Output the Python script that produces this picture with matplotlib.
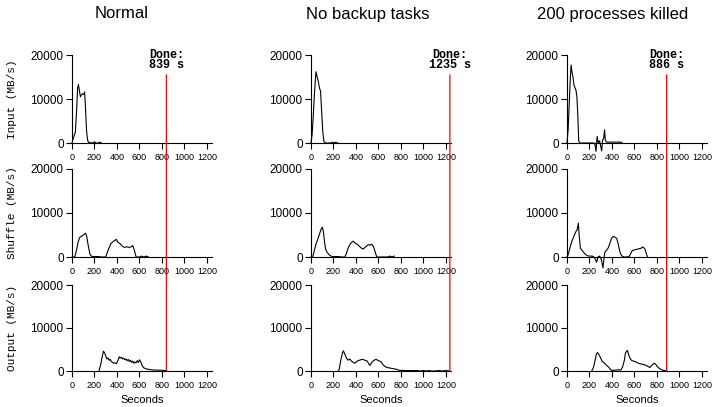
import numpy as np
import matplotlib.pyplot as plt
from matplotlib.patches import ConnectionPatch

# column titles and finish times
titles = ['Normal', 'No backup tasks', '200 processes killed']
done_s = [839, 1235, 886]
row_labels = ['Input (MB/s)', 'Shuffle (MB/s)', 'Output (MB/s)']

# Normal
input_normal_t = [0, 5, 20, 30, 40, 50, 57, 65, 75, 85, 95, 105, 112, 120, 130, 140, 150, 190, 200, 210, 240, 250, 260]
input_normal_v = [0, 500, 1800, 2500, 7000, 12500, 13300, 12000, 10500, 11000, 11200, 11000, 11600, 8000, 2500, 500, 100, 0, 300, 0, 0, 200, 0]
shuffle_normal_t = [0, 25, 40, 55, 70, 90, 110, 120, 130, 145, 160, 175, 190, 240, 260, 300, 320, 345, 370, 395, 410, 430, 445,
                    465, 490, 510, 525, 540, 555, 570, 600, 620, 640, 660, 680]
shuffle_normal_v = [0, 0, 1500, 3500, 4500, 4800, 5200, 5400, 4800, 2500, 600, 150, 100, 100, 0, 0, 1500, 3000, 3600, 4000, 3300,
                    3000, 2500, 2200, 2300, 2200, 2300, 2600, 1500, 0, 0, 200, 0, 200, 0]
output_normal_t = [240, 255, 270, 280, 290, 300, 310, 320, 330, 340, 350, 360, 370, 380, 395, 410, 420, 430, 440, 450, 460, 470,
                   480, 490, 500, 510, 520, 530, 540, 550, 560, 570, 580, 590, 600, 610, 620, 630, 640, 660, 680, 700, 720, 750,
                   780, 810, 830, 840]
output_normal_v = [0, 1500, 3500, 4600, 4200, 3500, 2800, 3000, 2500, 2700, 2200, 2000, 1800, 1900, 1700, 2500, 3300, 3000, 3200,
                   2800, 3000, 2600, 2800, 2400, 2700, 2200, 2500, 2000, 2300, 1800, 2100, 1900, 2400, 2000, 2600, 2200, 1500,
                   1000, 700, 500, 400, 300, 250, 200, 200, 150, 100, 0]

# No backup tasks
input_nobackup_t = [0, 10, 20, 30, 44, 55, 65, 75, 85, 95, 105, 115, 130, 180, 190, 200, 220, 230, 240]
input_nobackup_v = [0, 2000, 6000, 11000, 16200, 15000, 14000, 12500, 11800, 7000, 2500, 300, 0, 0, 200, 0, 200, 0, 0]
shuffle_nobackup_t = [0, 15, 30, 45, 60, 75, 90, 100, 110, 120, 130, 140, 155, 170, 190, 250, 270, 300, 315, 330, 345, 360, 375,
                      390, 405, 420, 435, 450, 465, 480, 495, 510, 525, 540, 555, 570, 585, 680, 700, 720, 740]
shuffle_nobackup_v = [0, 0, 1500, 3000, 4000, 5200, 6300, 6800, 5800, 3500, 1800, 1200, 700, 300, 100, 100, 0, 0, 800, 2000,
                      2800, 3300, 3600, 3200, 3000, 2700, 2300, 2000, 1800, 2200, 2500, 2800, 2700, 2900, 2400, 1200, 0, 0, 200,
                      0, 200]
output_nobackup_t = [240, 250, 265, 280, 288, 300, 315, 330, 345, 360, 375, 390, 405, 420, 440, 460, 480, 500, 515, 525, 540,
                     560, 580, 600, 620, 640, 660, 680, 700, 720, 740, 760, 780, 800, 850, 900, 950, 970, 1000, 1020, 1050,
                     1070, 1100, 1140, 1170, 1200, 1230]
output_nobackup_v = [0, 300, 2500, 4200, 4700, 4000, 3000, 2500, 2800, 2300, 2000, 1800, 2200, 2400, 2600, 2700, 2500, 2300,
                     1600, 1300, 2000, 2500, 2700, 2400, 2200, 1500, 1000, 800, 700, 600, 500, 400, 200, 150, 100, 100, 100, 0,
                     100, 0, 100, 0, 0, 100, 0, 100, 0]

# 200 processes killed
input_killed_t = [0, 10, 20, 30, 36, 45, 54, 62, 70, 80, 88, 95, 104, 115, 240, 250, 258, 268, 278, 290, 300, 308, 318, 326,
                  334, 340, 350, 420, 480, 490]
input_killed_v = [0, 3000, 9000, 15000, 17700, 16000, 14800, 13200, 12600, 12000, 10500, 7000, 500, 0, 0, -500, -1900, 1500,
                  0, 500, -800, -1800, 800, 1000, 3000, 800, 200, 200, 200, 0]
shuffle_killed_t = [0, 10, 20, 36, 50, 66, 80, 90, 101, 108, 119, 135, 149, 165, 179, 200, 225, 240, 252, 263, 275, 290, 305,
                    320, 335, 350, 365, 380, 395, 412, 428, 442, 455, 463, 475, 490, 507, 530, 552, 567, 582, 600, 615, 627,
                    645, 660, 672, 683, 693, 705, 716]
shuffle_killed_v = [0, 500, 1500, 3000, 4000, 5000, 5800, 6200, 7700, 5000, 2000, 1500, 1000, 600, 300, 200, 200, 0, -500,
                    -1200, 0, 200, -500, -2500, 1000, 1500, 2000, 3000, 4200, 4700, 4500, 4200, 3000, 2000, 800, 200, 0, 0,
                    100, 800, 1500, 1600, 1700, 1800, 1900, 2000, 2300, 2100, 1800, 800, 0]
output_killed_t = [220, 235, 250, 260, 270, 280, 290, 300, 313, 325, 335, 345, 358, 370, 382, 397, 420, 440, 460, 478, 495, 510,
                   520, 528, 537, 548, 560, 573, 590, 605, 620, 635, 650, 665, 680, 695, 710, 725, 737, 750, 765, 776, 790,
                   805, 820, 835, 851, 870, 885]
output_killed_v = [0, 800, 2500, 3800, 4300, 4000, 3500, 3000, 2200, 2000, 1800, 1500, 1200, 900, 500, 100, 200, 200, 300, 200,
                   1000, 2500, 4200, 4500, 4800, 3800, 3000, 2500, 2300, 2200, 2000, 1800, 1700, 1600, 1500, 1400, 1200,
                   1000, 800, 1200, 1600, 1800, 1500, 1000, 600, 400, 200, 100, 0]

series = [
    [(input_normal_t, input_normal_v), (input_nobackup_t, input_nobackup_v), (input_killed_t, input_killed_v)],
    [(shuffle_normal_t, shuffle_normal_v), (shuffle_nobackup_t, shuffle_nobackup_v), (shuffle_killed_t, shuffle_killed_v)],
    [(output_normal_t, output_normal_v), (output_nobackup_t, output_nobackup_v), (output_killed_t, output_killed_v)],
]

W, H = 712, 407
fig = plt.figure(figsize=(W / 100, H / 100), dpi=100)

col_left = [72, 311, 567]
row_top = [55, 169, 285]
row_h = [88, 88, 86]
ax_w = 140
title_x = [122, 368, 613]

axes = [[None] * 3 for _ in range(3)]
for r in range(3):
    for c in range(3):
        ax = fig.add_axes([col_left[c] / W, (H - row_top[r] - row_h[r]) / H, ax_w / W, row_h[r] / H])
        axes[r][c] = ax
        t, v = series[r][c]
        ax.plot(t, v, color='black', lw=0.8, clip_on=False)
        ax.set_xlim(0, 1245)
        ax.set_ylim(0, 20000)
        ax.set_xticks(range(0, 1201, 200))
        ax.set_yticks([0, 10000, 20000])
        ax.spines['top'].set_visible(False)
        ax.spines['right'].set_visible(False)
        ax.spines['left'].set_linewidth(0.8)
        ax.spines['bottom'].set_linewidth(0.8)
        ax.tick_params(axis='both', direction='out', length=4, width=0.8)
        ax.tick_params(axis='x', labelsize=6.5, pad=3)
        ax.tick_params(axis='y', labelsize=8.5, pad=2)
        for lab in ax.get_xticklabels() + ax.get_yticklabels():
            lab.set_family('Liberation Sans')
        if c == 0:
            ax.set_ylabel(row_labels[r], family='Liberation Mono', fontsize=8)
            ax.yaxis.set_label_coords(-0.39, 0.5)
        if r == 2:
            ax.set_xlabel('Seconds', family='Liberation Sans', fontsize=8, labelpad=4)

for c in range(3):
    fig.text(title_x[c] / W, 1 - 14 / H, titles[c], ha='center', va='center', fontsize=12, family='Liberation Sans')
    top = axes[0][c]
    top.text(done_s[c], 16300, 'Done:\n%d s' % done_s[c], ha='center', va='bottom', fontsize=8.5,
             family='Liberation Mono', fontweight='bold', linespacing=0.85, clip_on=False)
    con = ConnectionPatch(xyA=(done_s[c], 15500), coordsA=top.transData,
                          xyB=(done_s[c], 0), coordsB=axes[2][c].transData,
                          color='red', lw=0.9)
    fig.add_artist(con)

fig.savefig('out.png', dpi=100)
